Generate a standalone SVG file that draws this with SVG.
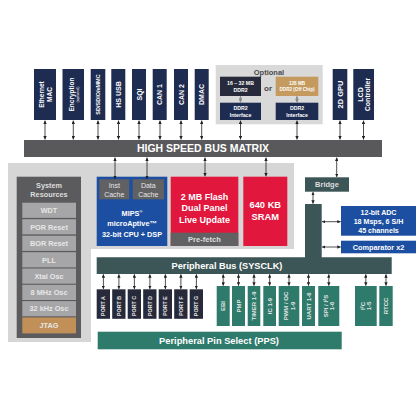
<svg xmlns="http://www.w3.org/2000/svg" width="420" height="420" viewBox="0 0 420 420">
<style>
text{font-family:"Liberation Sans",Arial,sans-serif;font-weight:bold;fill:#fff;text-anchor:middle}
.navy{fill:#1f2c52}.dark{fill:#272a3a}.tan{fill:#c49a5e}.bus{fill:#59595b}
.sys{fill:#5b5b5d}.row{fill:#a6a6a8}.blue{fill:#1c4fa1}.red{fill:#e2173d}
.cg{fill:#616163}.slate{fill:#3c5556}.teal{fill:#2e7a6b}
.t7{font-size:7px}.t65{font-size:6.5px}.t6{font-size:6px}.t55{font-size:5.5px}.t5{font-size:5.2px}
.lt{fill:#e6e6e6}
.ar{stroke:#222;stroke-width:0.8;fill:none;marker-start:url(#ah);marker-end:url(#ah)}
.arg{stroke:#8a8a8a;stroke-width:1.2;fill:none;marker-start:url(#ahg);marker-end:url(#ahg)}
</style>
<defs>
<marker id="ah" viewBox="0 0 6 6" refX="6" refY="3" markerUnits="userSpaceOnUse" markerWidth="3.4" markerHeight="3.4" orient="auto-start-reverse"><path d="M0,0 L6,3 L0,6 z" fill="#222"/></marker>
<marker id="ahg" viewBox="0 0 6 6" refX="6" refY="3" markerUnits="userSpaceOnUse" markerWidth="3.4" markerHeight="3.4" orient="auto-start-reverse"><path d="M0,0 L6,3 L0,6 z" fill="#8a8a8a"/></marker>
</defs>
<rect width="420" height="420" fill="#fff"/>

<!-- background regions -->
<path d="M8,163 H294 V249 H91 V342 H8 Z" fill="#d6d6d6"/>

<!-- top peripherals -->
<g id="eth"><rect class="navy" x="34" y="69" width="22" height="51"/>
<text class="t65" transform="translate(45,94.5) rotate(-90)"><tspan x="0" y="-1">Ethernet</tspan><tspan x="0" y="6.5">MAC</tspan></text></g>
<g id="enc"><rect class="navy" x="62.5" y="69" width="21.5" height="51"/>
<text class="t65" transform="translate(73.3,94.5) rotate(-90)"><tspan x="0" y="0.5">Encryption</tspan><tspan x="0" y="6" style="font-size:3.8px;font-weight:normal">(optional)</tspan></text></g>
<g id="sd"><rect class="navy" x="90.7" y="69" width="14.6" height="51"/>
<text class="t55" transform="translate(98,94.5) rotate(-90)" x="0" y="2">SD/SDIO/eMMC</text></g>
<g id="usb"><rect class="navy" x="111.3" y="69" width="14" height="51"/>
<text class="t7" transform="translate(118.3,94.5) rotate(-90)" x="0" y="2.5">HS USB</text></g>
<g id="sqi"><rect class="navy" x="132" y="69" width="14" height="51"/>
<text class="t7" transform="translate(139,94.5) rotate(-90)" x="0" y="2.5">SQI</text></g>
<g id="can1"><rect class="navy" x="152.7" y="69" width="14" height="51"/>
<text class="t7" transform="translate(159.7,94.5) rotate(-90)" x="0" y="2.5">CAN 1</text></g>
<g id="can2"><rect class="navy" x="174" y="69" width="14" height="51"/>
<text class="t7" transform="translate(181,94.5) rotate(-90)" x="0" y="2.5">CAN 2</text></g>
<g id="dmac"><rect class="navy" x="194.7" y="69" width="14" height="51"/>
<text class="t7" transform="translate(201.7,94.5) rotate(-90)" x="0" y="2.5">DMAC</text></g>

<g id="optional">
<rect x="215.7" y="65" width="107" height="59.3" fill="#d9d9d9"/>
<text x="269" y="74.5" style="font-size:7.5px;fill:#4a4a4a">Optional</text>
<rect class="dark" x="220" y="76.7" width="41" height="19.3"/>
<text class="t5"><tspan x="240.5" y="84.8">16 – 32 MB</tspan><tspan x="240.5" y="91.5">DDR2</tspan></text>
<text x="268" y="90.5" style="font-size:8px;fill:#4a4a4a">or</text>
<rect class="tan" x="275.7" y="76.7" width="42.6" height="19.3"/>
<text style="font-size:4.6px"><tspan x="297" y="84.6">128 MB</tspan><tspan x="297" y="91.2">DDR2 (Off Chip)</tspan></text>
<rect class="navy" x="220" y="102.7" width="41" height="17.3"/>
<text class="t5"><tspan x="240.5" y="110">DDR2</tspan><tspan x="240.5" y="116.5">Interface</tspan></text>
<rect class="navy" x="275.7" y="102.7" width="42.6" height="17.3"/>
<text class="t5"><tspan x="297" y="110">DDR2</tspan><tspan x="297" y="116.5">Interface</tspan></text>
</g>

<g id="gpu"><rect class="navy" x="332.7" y="69" width="14.6" height="51"/>
<text style="font-size:7.5px" transform="translate(340,94.5) rotate(-90)" x="0" y="2.7">2D GPU</text></g>
<g id="lcd"><rect class="navy" x="353.3" y="69" width="20.7" height="51"/>
<text class="t7" transform="translate(363.7,94.5) rotate(-90)"><tspan x="0" y="-1">LCD</tspan><tspan x="0" y="6.5">Controller</tspan></text></g>

<g id="busmatrix"><rect class="bus" x="24" y="140" width="358" height="17"/>
<text x="203" y="152.3" style="font-size:10.5px">HIGH SPEED BUS MATRIX</text></g>

<!-- system resources -->
<g id="sysres">
<rect class="sys" x="16.7" y="176.7" width="64.3" height="161.3"/>
<text style="font-size:7.3px;fill:#dedede"><tspan x="49" y="187.5">System</tspan><tspan x="49" y="196.5">Resources</tspan></text>
<rect class="row" x="22.3" y="202.7" width="53.7" height="15.2"/><text class="lt" x="49" y="213" style="font-size:7.3px">WDT</text>
<rect class="row" x="22.3" y="219.2" width="53.7" height="15.2"/><text class="lt" x="49" y="229.5" style="font-size:7.3px">POR Reset</text>
<rect class="row" x="22.3" y="235.7" width="53.7" height="15.2"/><text class="lt" x="49" y="246" style="font-size:7.3px">BOR Reset</text>
<rect class="row" x="22.3" y="252.2" width="53.7" height="15.2"/><text class="lt" x="49" y="262.5" style="font-size:7.3px">PLL</text>
<rect class="row" x="22.3" y="268.5" width="53.7" height="15.2"/><text class="lt" x="49" y="278.8" style="font-size:7.3px">Xtal Osc</text>
<rect class="row" x="22.3" y="284.8" width="53.7" height="15.2"/><text class="lt" x="49" y="295.1" style="font-size:7.3px">8 MHz Osc</text>
<rect class="row" x="22.3" y="301.1" width="53.7" height="15.2"/><text class="lt" x="49" y="311.4" style="font-size:7.3px">32 kHz Osc</text>
<rect x="22.3" y="317.4" width="53.7" height="16" fill="#c09058"/><text class="lt" x="49" y="328" style="font-size:7.3px">JTAG</text>
</g>

<!-- CPU -->
<g id="cpu">
<rect class="blue" x="96.7" y="176.7" width="70.6" height="69.3"/>
<rect class="cg" x="99.3" y="179.3" width="30" height="20"/>
<rect class="cg" x="132.7" y="179.3" width="31.3" height="20"/>
<text style="font-size:7px;font-weight:normal;fill:#e6e6e6"><tspan x="114.3" y="187.5">Inst</tspan><tspan x="114.3" y="196.5">Cache</tspan></text>
<text style="font-size:7px;font-weight:normal;fill:#e6e6e6"><tspan x="148.3" y="187.5">Data</tspan><tspan x="148.3" y="196.5">Cache</tspan></text>
<text style="font-size:7.3px"><tspan x="132" y="215.5">MIPS<tspan style="font-size:4px" dy="-2.5">®</tspan></tspan><tspan x="132" y="226">microAptive™</tspan><tspan x="132" y="236.5">32-bit CPU + DSP</tspan></text>
</g>

<g id="flash">
<rect class="red" x="170.7" y="176.7" width="67.6" height="69.3"/>
<rect class="cg" x="170.7" y="232.7" width="67.6" height="13.3"/>
<text style="font-size:9px"><tspan x="204.5" y="199.8">2 MB Flash</tspan><tspan x="204.5" y="211.2">Dual Panel</tspan><tspan x="204.5" y="222.6">Live Update</tspan></text>
<text x="204.5" y="242.2" style="font-size:7.6px;fill:#dedede">Pre-fetch</text>
</g>

<g id="sram">
<rect class="red" x="243.3" y="176.7" width="44" height="69.3"/>
<text style="font-size:9.3px"><tspan x="265.3" y="208.3">640 KB</tspan><tspan x="265.3" y="220.3">SRAM</tspan></text>
</g>

<g id="bridge">
<rect class="slate" x="305" y="177.3" width="44" height="14.4"/>
<text x="327" y="187.2" style="font-size:7.5px;fill:#dedede">Bridge</text>
</g>

<g id="adc">
<rect class="blue" x="341" y="206" width="75" height="29.7"/>
<text style="font-size:7.1px"><tspan x="378.5" y="215.3">12-bit ADC</tspan><tspan x="378.5" y="224.1">18 Msps, 6 S/H</tspan><tspan x="378.5" y="232.9">45 channels</tspan></text>
</g>
<g id="comp">
<rect class="blue" x="341" y="240.7" width="75" height="12.6"/>
<text x="378.5" y="249.6" style="font-size:7.3px">Comparator x2</text>
</g>

<g id="pbus">
<path class="slate" d="M305,204 H321.7 V257.3 H391.7 V274 H96.7 V257.3 H305 Z"/>
<text x="227" y="268.8" style="font-size:9.2px">Peripheral Bus (SYSCLK)</text>
</g>

<!-- ports -->
<g id="ports">
<rect class="dark" x="96.7" y="289.3" width="13.3" height="29.5"/>
<rect class="dark" x="112.2" y="289.3" width="13.3" height="29.5"/>
<rect class="dark" x="127.7" y="289.3" width="13.3" height="29.5"/>
<rect class="dark" x="143.2" y="289.3" width="13.3" height="29.5"/>
<rect class="dark" x="158.7" y="289.3" width="13.3" height="29.5"/>
<rect class="dark" x="174.2" y="289.3" width="13.3" height="29.5"/>
<rect class="dark" x="189.7" y="289.3" width="13.3" height="29.5"/>
<text class="lt" style="font-size:5.3px" transform="translate(103.4,306) rotate(-90)" y="1.9">PORT A</text>
<text class="lt" style="font-size:5.3px" transform="translate(118.9,306) rotate(-90)" y="1.9">PORT B</text>
<text class="lt" style="font-size:5.3px" transform="translate(134.4,306) rotate(-90)" y="1.9">PORT C</text>
<text class="lt" style="font-size:5.3px" transform="translate(149.9,306) rotate(-90)" y="1.9">PORT D</text>
<text class="lt" style="font-size:5.3px" transform="translate(165.4,306) rotate(-90)" y="1.9">PORT E</text>
<text class="lt" style="font-size:5.3px" transform="translate(180.9,306) rotate(-90)" y="1.9">PORT F</text>
<text class="lt" style="font-size:5.3px" transform="translate(196.4,306) rotate(-90)" y="1.9">PORT G</text>
</g>

<!-- teal peripherals -->
<g id="ebi"><rect class="teal" x="216.7" y="286" width="13" height="40"/>
<text class="lt t6" transform="translate(223.2,306) rotate(-90)" y="2.1">EBI</text></g>
<g id="pmp"><rect class="teal" x="232" y="286" width="13" height="40"/>
<text class="lt t6" transform="translate(238.5,306) rotate(-90)" y="2.1">PMP</text></g>
<g id="timer"><rect class="teal" x="247.7" y="286" width="12.6" height="40"/>
<text class="lt t6" transform="translate(254,306) rotate(-90)" y="2.1">TIMER 1-9</text></g>
<g id="ic"><rect class="teal" x="263.3" y="286" width="12.7" height="40"/>
<text class="lt t6" transform="translate(269.7,306) rotate(-90)" y="2.1">IC 1-9</text></g>
<g id="pwm"><rect class="teal" x="278.7" y="286" width="20.6" height="40"/>
<text class="lt t6" transform="translate(289,306) rotate(-90)"><tspan x="0" y="-1">PWM / OC</tspan><tspan x="0" y="5.5">1-9</tspan></text></g>
<g id="uart"><rect class="teal" x="302" y="286" width="13" height="40"/>
<text class="lt t6" transform="translate(308.5,306) rotate(-90)" y="2.1">UART 1-6</text></g>
<g id="spi"><rect class="teal" x="318.3" y="286" width="21" height="40"/>
<text class="lt t6" transform="translate(328.8,306) rotate(-90)"><tspan x="0" y="-1">SPI / I<tspan style="font-size:3.8px" dy="-1.8">2</tspan><tspan dy="1.8">S</tspan></tspan><tspan x="0" y="5.5">1-6</tspan></text></g>
<g id="i2c"><rect class="teal" x="355" y="286" width="21.7" height="40"/>
<text class="lt t6" transform="translate(365.8,306) rotate(-90)"><tspan x="0" y="-1">I<tspan style="font-size:3.8px" dy="-1.8">2</tspan><tspan dy="1.8">C</tspan></tspan><tspan x="0" y="5.5">1-5</tspan></text></g>
<g id="rtcc"><rect class="teal" x="379.3" y="286" width="13.4" height="40"/>
<text class="lt t6" transform="translate(386,306) rotate(-90)" y="2.1">RTCC</text></g>

<g id="pps"><rect class="teal" x="97.7" y="331.7" width="244" height="17.6"/>
<text x="219" y="343.8" style="font-size:9.3px">Peripheral Pin Select (PPS)</text></g>

<!-- connectors -->
<g id="connectors">
<line class="ar" x1="45" y1="120.5" x2="45" y2="139.5"/>
<line class="ar" x1="73.3" y1="120.5" x2="73.3" y2="139.5"/>
<line class="ar" x1="98" y1="120.5" x2="98" y2="139.5"/>
<line class="ar" x1="118.5" y1="120.5" x2="118.5" y2="139.5"/>
<line class="ar" x1="139" y1="120.5" x2="139" y2="139.5"/>
<line class="ar" x1="160" y1="120.5" x2="160" y2="139.5"/>
<line class="ar" x1="181" y1="120.5" x2="181" y2="139.5"/>
<line class="ar" x1="201.7" y1="120.5" x2="201.7" y2="139.5"/>
<line class="ar" x1="240.5" y1="120.5" x2="240.5" y2="139.5"/>
<line class="ar" x1="297" y1="120.5" x2="297" y2="139.5"/>
<line class="ar" x1="340" y1="120.5" x2="340" y2="139.5"/>
<line class="ar" x1="363.5" y1="120.5" x2="363.5" y2="139.5"/>
<line class="arg" x1="240.5" y1="96.3" x2="240.5" y2="102.4"/>
<line class="arg" x1="297" y1="96.3" x2="297" y2="102.4"/>
<line class="ar" x1="115" y1="157.5" x2="115" y2="179"/>
<line class="ar" x1="147" y1="157.5" x2="147" y2="179"/>
<line class="ar" x1="205" y1="157.5" x2="205" y2="176.4"/>
<line class="ar" x1="266" y1="157.5" x2="266" y2="176.4"/>
<line class="ar" x1="336.7" y1="157.5" x2="336.7" y2="177"/>
<line class="ar" x1="313" y1="192" x2="313" y2="203.7"/>
<line class="ar" x1="322" y1="221.7" x2="340.7" y2="221.7"/>
<line class="ar" x1="322" y1="247" x2="340.7" y2="247"/>
<line class="ar" x1="103.4" y1="274.3" x2="103.4" y2="289"/>
<line class="ar" x1="118.9" y1="274.3" x2="118.9" y2="289"/>
<line class="ar" x1="134.4" y1="274.3" x2="134.4" y2="289"/>
<line class="ar" x1="149.9" y1="274.3" x2="149.9" y2="289"/>
<line class="ar" x1="165.4" y1="274.3" x2="165.4" y2="289"/>
<line class="ar" x1="180.9" y1="274.3" x2="180.9" y2="289"/>
<line class="ar" x1="196.4" y1="274.3" x2="196.4" y2="289"/>
<line class="ar" x1="223.2" y1="274.3" x2="223.2" y2="285.7"/>
<line class="ar" x1="238.5" y1="274.3" x2="238.5" y2="285.7"/>
<line class="ar" x1="254" y1="274.3" x2="254" y2="285.7"/>
<line class="ar" x1="269.7" y1="274.3" x2="269.7" y2="285.7"/>
<line class="ar" x1="289" y1="274.3" x2="289" y2="285.7"/>
<line class="ar" x1="308.5" y1="274.3" x2="308.5" y2="285.7"/>
<line class="ar" x1="328.8" y1="274.3" x2="328.8" y2="285.7"/>
<line class="ar" x1="365.8" y1="274.3" x2="365.8" y2="285.7"/>
<line class="ar" x1="386" y1="274.3" x2="386" y2="285.7"/>
</g>
</svg>
